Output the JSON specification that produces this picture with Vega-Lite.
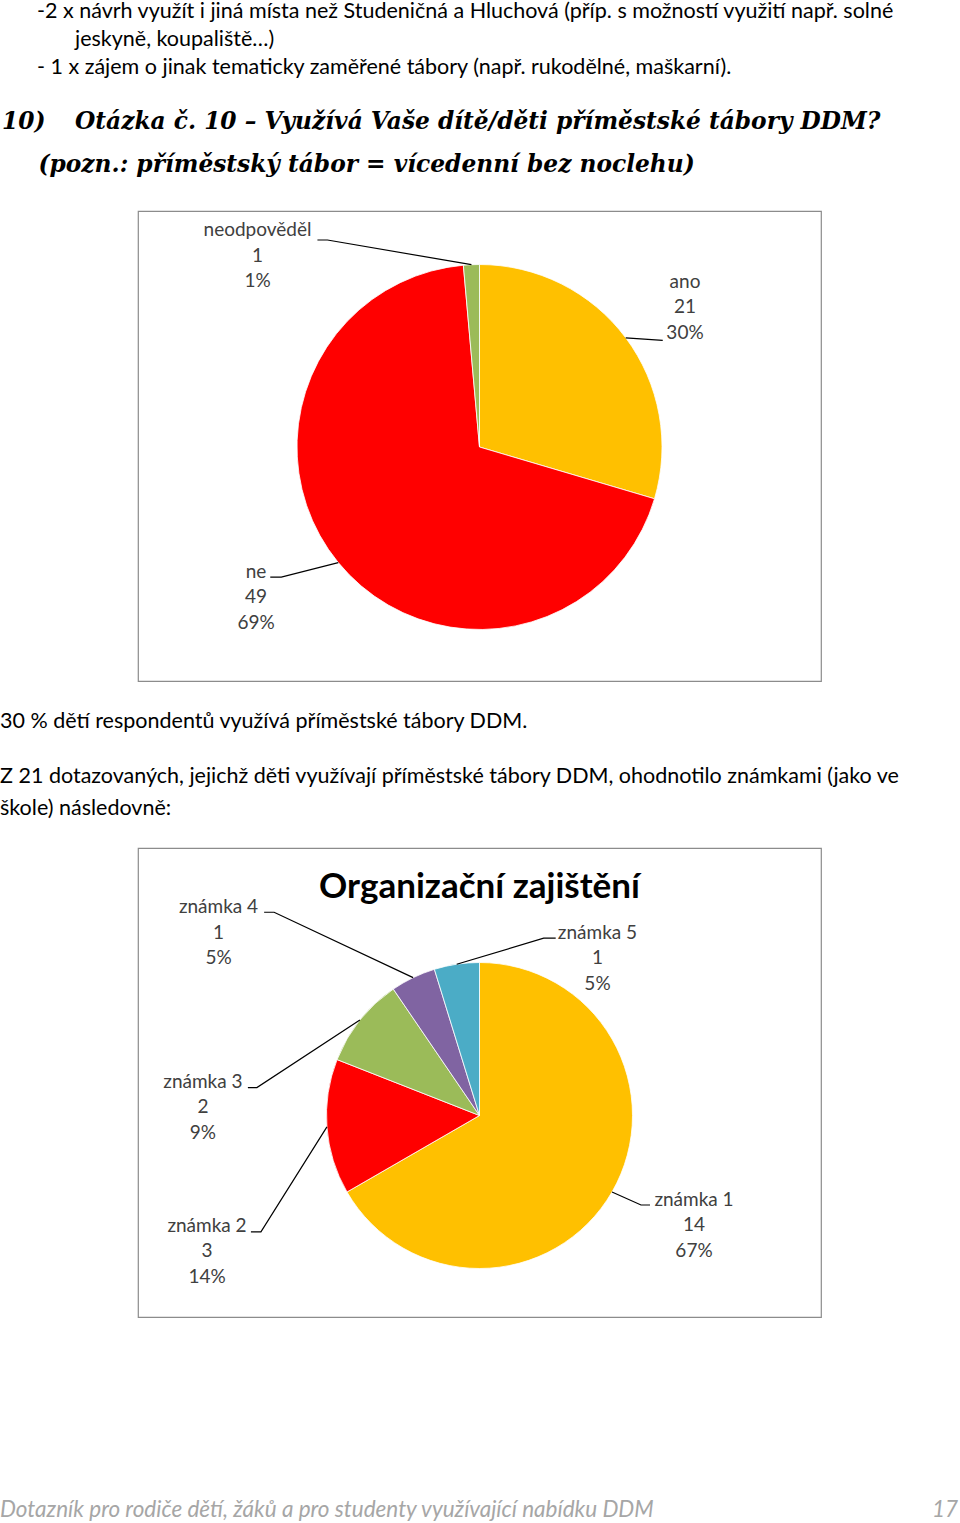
{
  "$schema": "https://vega.github.io/schema/vega-lite/v6.json",
  "background": "white",
  "padding": 0,
  "spacing": 0,
  "config": {"view": {"stroke": null}, "concat": {"spacing": 0}},
  "resolve": {"scale": {"color": "independent", "shape": "independent"}},
  "datasets": {
    "top": [
      {"line": 1, "indent": 0, "t": "-2 x návrh využít i jiná místa než Studeničná a Hluchová (příp. s možností využití např. solné"},
      {"line": 2, "indent": 1, "t": "jeskyně, koupaliště…)"},
      {"line": 3, "indent": 0, "t": "- 1 x zájem o jinak tematicky zaměřené tábory  (např. rukodělné, maškarní)."}
    ],
    "heading": [
      {"line": 1, "col": 0, "t": "10)"},
      {"line": 1, "col": 2, "t": "Otázka č. 10 – Využívá Vaše dítě/děti příměstské tábory DDM?"},
      {"line": 2, "col": 1, "t": "(pozn.: příměstský tábor = vícedenní bez noclehu)"}
    ],
    "odpovedi": [
      {"kat": "ano", "value": 21, "pct": 30},
      {"kat": "ne", "value": 49, "pct": 69},
      {"kat": "neodpověděl", "value": 1, "pct": 1}
    ],
    "p1": [
      {"line": 1, "col": 0, "t": "30 %  dětí respondentů využívá příměstské tábory DDM."}
    ],
    "p2": [
      {"line": 1, "col": 0, "t": "Z 21 dotazovaných, jejichž děti využívají příměstské tábory DDM, ohodnotilo známkami (jako ve"},
      {"line": 2, "col": 0, "t": "škole) následovně:"}
    ],
    "znamky": [
      {"kat": "známka 1", "value": 14, "pct": 67},
      {"kat": "známka 2", "value": 3, "pct": 14},
      {"kat": "známka 3", "value": 2, "pct": 9},
      {"kat": "známka 4", "value": 1, "pct": 5},
      {"kat": "známka 5", "value": 1, "pct": 5}
    ],
    "footer": [
      {"line": 1, "col": 0, "t": "Dotazník pro rodiče dětí, žáků a pro studenty využívající nabídku DDM"},
      {"line": 1, "col": 1, "t": "17"}
    ],
    "spacer": [{"s": 0}]
  },
  "vconcat": [
    {
      "width": 960, "height": 80,
      "data": {"name": "top"},
      "mark": {"type": "text", "align": "left", "baseline": "middle", "font": "Lato", "fontSize": 21.5, "color": "#000000"},
      "encoding": {
        "x": {"field": "indent", "type": "quantitative", "scale": {"domain": [0, 1], "range": [37, 75], "nice": false}, "axis": null},
        "y": {"field": "line", "type": "ordinal", "scale": {"type": "point", "padding": 0.4414, "round": false}, "axis": null},
        "text": {"field": "t"}
      }
    },
    {
      "width": 960, "height": 130,
      "data": {"name": "heading"},
      "mark": {"type": "text", "align": "left", "baseline": "middle", "font": "DejaVu Serif", "fontSize": 23.3, "fontWeight": "bold", "fontStyle": "italic", "color": "#000000"},
      "encoding": {
        "x": {"field": "col", "type": "quantitative", "scale": {"domain": [0, 2], "range": [2, 75], "nice": false}, "axis": null},
        "y": {"field": "line", "type": "ordinal", "scale": {"type": "point", "padding": 1.1667, "align": 0.4835, "round": false}, "axis": null},
        "text": {"field": "t"}
      }
    },
    {
      "hconcat": [
        {
          "width": 137, "height": 10,
          "data": {"name": "spacer"},
          "mark": {"type": "point", "opacity": 0},
          "encoding": {}
        },
        {
          "width": 683, "height": 470,
          "view": {"stroke": "#8c8c8c", "strokeWidth": 1.2},
          "data": {"name": "odpovedi"},
          "transform": [
            {"window": [{"op": "sum", "field": "value", "as": "cum"}], "sort": [{"field": "kat", "order": "ascending"}], "frame": [null, 0]},
            {"joinaggregate": [{"op": "sum", "field": "value", "as": "total"}]},
            {"calculate": "2*PI*(datum.cum - datum.value/2)/datum.total", "as": "mid"},
            {"calculate": "182.5*sin(datum.mid)", "as": "ax"},
            {"calculate": "-182.5*cos(datum.mid)", "as": "ay"},
            {"calculate": "datum.kat + '\\n' + datum.value + '\\n' + datum.pct + '%'", "as": "lbl"}
          ],
          "layer": [
            {
              "mark": {"type": "arc", "outerRadius": 182.5, "stroke": "#ffffff", "strokeWidth": 0.8, "yOffset": 1},
              "encoding": {
                "theta": {"field": "value", "type": "quantitative", "stack": true},
                "color": {"field": "kat", "type": "nominal", "scale": {"domain": ["ano", "ne", "neodpověděl"], "range": ["#FFC000", "#FF0000", "#9BBB59"]}, "legend": null},
                "order": {"field": "kat", "sort": "ascending"}
              }
            },
            {
              "encoding": {
                "x": {"field": "ax", "type": "quantitative", "scale": {"domain": [-341.5, 341.5], "nice": false, "zero": false}, "axis": null},
                "y": {"field": "ay", "type": "quantitative", "scale": {"domain": [-236, 234], "nice": false, "zero": false, "reverse": true}, "axis": null}
              },
              "layer": [
                {
                  "mark": {"type": "point", "filled": false, "size": 4, "color": "#000000", "strokeWidth": 1.2, "opacity": 1},
                  "encoding": {
                    "shape": {"field": "kat", "type": "nominal", "scale": {"domain": ["ano", "ne", "neodpověděl"], "range": ["M0,0L37,2.5", "M0,0L-57,14.5L-68,14.5", "M0,0L-144,-24.7L-154,-24.7"]}, "legend": null}
                  }
                },
                {
                  "transform": [{"filter": "datum.kat === 'ano'"}],
                  "mark": {"type": "text", "align": "center", "baseline": "middle", "font": "Lato", "fontSize": 19, "color": "#404040", "lineBreak": "\n", "lineHeight": 25.5, "dx": 59.3, "dy": -56.2},
                  "encoding": {"text": {"field": "lbl"}}
                },
                {
                  "transform": [{"filter": "datum.kat === 'ne'"}],
                  "mark": {"type": "text", "align": "center", "baseline": "middle", "font": "Lato", "fontSize": 19, "color": "#404040", "lineBreak": "\n", "lineHeight": 25.5, "dx": -82.2, "dy": 9},
                  "encoding": {"text": {"field": "lbl"}}
                },
                {
                  "transform": [{"filter": "datum.kat === 'neodpověděl'"}],
                  "mark": {"type": "text", "align": "center", "baseline": "middle", "font": "Lato", "fontSize": 19, "color": "#404040", "lineBreak": "\n", "lineHeight": 25.5, "dx": -213.9, "dy": -34.2},
                  "encoding": {"text": {"field": "lbl"}}
                }
              ]
            }
          ]
        }
      ]
    },
    {
      "width": 960, "height": 80,
      "data": {"name": "p1"},
      "mark": {"type": "text", "align": "left", "baseline": "middle", "font": "Lato", "fontSize": 21.5, "color": "#000000"},
      "encoding": {
        "x": {"field": "col", "type": "quantitative", "scale": {"domain": [0, 1], "range": [0, 960], "nice": false}, "axis": null},
        "y": {"field": "line", "type": "ordinal", "scale": {"type": "point", "align": 0.5, "round": false}, "axis": null},
        "text": {"field": "t"}
      }
    },
    {
      "width": 960, "height": 85,
      "data": {"name": "p2"},
      "mark": {"type": "text", "align": "left", "baseline": "middle", "font": "Lato", "fontSize": 21.5, "color": "#000000"},
      "encoding": {
        "x": {"field": "col", "type": "quantitative", "scale": {"domain": [0, 1], "range": [0, 960], "nice": false}, "axis": null},
        "y": {"field": "line", "type": "ordinal", "scale": {"type": "point", "padding": 0.828, "align": 0.283, "round": false}, "axis": null},
        "text": {"field": "t"}
      }
    },
    {
      "hconcat": [
        {
          "width": 137, "height": 10,
          "data": {"name": "spacer"},
          "mark": {"type": "point", "opacity": 0},
          "encoding": {}
        },
        {
          "width": 683, "height": 469,
          "view": {"stroke": "#8c8c8c", "strokeWidth": 1.2},
          "title": {"text": "Organizační zajištění", "offset": -74, "frame": "group", "anchor": "middle", "baseline": "middle", "font": "Lato", "fontSize": 35, "fontWeight": "bold", "color": "#000000"},
          "data": {"name": "znamky"},
          "transform": [
            {"window": [{"op": "sum", "field": "value", "as": "cum"}], "sort": [{"field": "kat", "order": "ascending"}], "frame": [null, 0]},
            {"joinaggregate": [{"op": "sum", "field": "value", "as": "total"}]},
            {"calculate": "2*PI*(datum.cum - datum.value/2)/datum.total", "as": "mid"},
            {"calculate": "153*sin(datum.mid)", "as": "ax"},
            {"calculate": "-153*cos(datum.mid)", "as": "ay"},
            {"calculate": "datum.kat + '\\n' + datum.value + '\\n' + datum.pct + '%'", "as": "lbl"}
          ],
          "layer": [
            {
              "mark": {"type": "arc", "outerRadius": 153, "stroke": "#ffffff", "strokeWidth": 0.8, "yOffset": 33},
              "encoding": {
                "theta": {"field": "value", "type": "quantitative", "stack": true},
                "color": {"field": "kat", "type": "nominal", "scale": {"domain": ["známka 1", "známka 2", "známka 3", "známka 4", "známka 5"], "range": ["#FFC000", "#FF0000", "#9BBB59", "#8064A2", "#4BACC6"]}, "legend": null},
                "order": {"field": "kat", "sort": "ascending"}
              }
            },
            {
              "encoding": {
                "x": {"field": "ax", "type": "quantitative", "scale": {"domain": [-341.5, 341.5], "nice": false, "zero": false}, "axis": null},
                "y": {"field": "ay", "type": "quantitative", "scale": {"domain": [-267.5, 201.5], "nice": false, "zero": false, "reverse": true}, "axis": null}
              },
              "layer": [
                {
                  "mark": {"type": "point", "filled": false, "size": 4, "color": "#000000", "strokeWidth": 1.2, "opacity": 1},
                  "encoding": {
                    "shape": {"field": "kat", "type": "nominal", "scale": {"domain": ["známka 1", "známka 2", "známka 3", "známka 4", "známka 5"], "range": ["M0,0L29,13L38,13", "M0,0L-66,105L-76,105", "M0,0L-103,67.5L-112,67.5", "M0,0L-139,-65.4L-149,-65.4", "M0,0L87,-26L99,-26"]}, "legend": null}
                  }
                },
                {
                  "transform": [{"filter": "datum.kat === 'známka 1'"}],
                  "mark": {"type": "text", "align": "center", "baseline": "middle", "font": "Lato", "fontSize": 19, "color": "#404040", "lineBreak": "\n", "lineHeight": 25.5, "dx": 82, "dy": 7.5},
                  "encoding": {"text": {"field": "lbl"}}
                },
                {
                  "transform": [{"filter": "datum.kat === 'známka 2'"}],
                  "mark": {"type": "text", "align": "center", "baseline": "middle", "font": "Lato", "fontSize": 19, "color": "#404040", "lineBreak": "\n", "lineHeight": 25.5, "dx": -119.9, "dy": 98.6},
                  "encoding": {"text": {"field": "lbl"}}
                },
                {
                  "transform": [{"filter": "datum.kat === 'známka 3'"}],
                  "mark": {"type": "text", "align": "center", "baseline": "middle", "font": "Lato", "fontSize": 19, "color": "#404040", "lineBreak": "\n", "lineHeight": 25.5, "dx": -156.9, "dy": 61.4},
                  "encoding": {"text": {"field": "lbl"}}
                },
                {
                  "transform": [{"filter": "datum.kat === 'známka 4'"}],
                  "mark": {"type": "text", "align": "center", "baseline": "middle", "font": "Lato", "fontSize": 19, "color": "#404040", "lineBreak": "\n", "lineHeight": 25.5, "dx": -194.6, "dy": -70.2},
                  "encoding": {"text": {"field": "lbl"}}
                },
                {
                  "transform": [{"filter": "datum.kat === 'známka 5'"}],
                  "mark": {"type": "text", "align": "center", "baseline": "middle", "font": "Lato", "fontSize": 19, "color": "#404040", "lineBreak": "\n", "lineHeight": 25.5, "dx": 140.8, "dy": -31.7},
                  "encoding": {"text": {"field": "lbl"}}
                }
              ]
            }
          ]
        }
      ]
    },
    {
      "width": 960, "height": 206,
      "data": {"name": "footer"},
      "encoding": {
        "x": {"field": "col", "type": "quantitative", "scale": {"domain": [0, 1], "range": [0, 958], "nice": false}, "axis": null},
        "y": {"field": "line", "type": "ordinal", "scale": {"type": "point", "align": 0.932, "round": false}, "axis": null},
        "text": {"field": "t"}
      },
      "layer": [
        {
          "transform": [{"filter": "datum.col === 0"}],
          "mark": {"type": "text", "align": "left", "baseline": "middle", "font": "Lato", "fontSize": 22.5, "fontStyle": "italic", "color": "#a6a6a6"}
        },
        {
          "transform": [{"filter": "datum.col === 1"}],
          "mark": {"type": "text", "align": "right", "baseline": "middle", "font": "Lato", "fontSize": 22.5, "fontStyle": "italic", "color": "#a6a6a6"}
        }
      ]
    }
  ]
}
